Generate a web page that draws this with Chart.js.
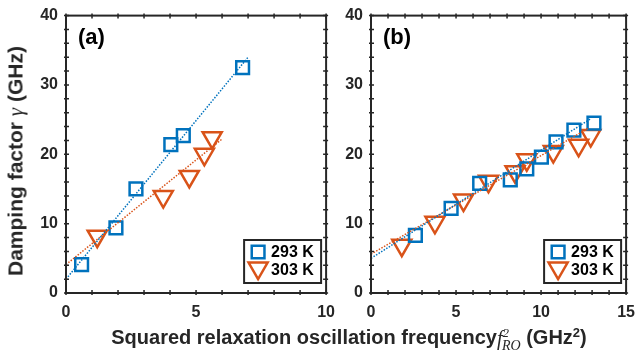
<!DOCTYPE html>
<html>
<head>
<meta charset="utf-8">
<script src="https://cdn.jsdelivr.net/npm/chart.js@4.4.1/dist/chart.umd.min.js"></script>
<style>
  body { margin: 0; background: #fff; width: 641px; height: 360px; position: relative; overflow: hidden; font-family: "Liberation Sans", Arial, sans-serif; }
  canvas { position: absolute; top: -2px; }
  #ylab { position: absolute; left: 16px; top: 161px; transform: translate(-50%, -50%) rotate(-90deg); white-space: nowrap; font-weight: bold; font-size: 21px; color: #262626; }
  #xlab { position: absolute; left: 349px; top: 339px; transform: translate(-50%, -50%); white-space: nowrap; font-weight: bold; font-size: 20px; color: #262626; }
  .it { font-family: "Liberation Serif", serif; font-style: italic; font-weight: normal; }
</style>
</head>
<body>
<canvas id="chartA" width="345" height="362" style="left:0"></canvas>
<canvas id="chartB" width="315" height="362" style="left:330px"></canvas>
<div id="ylab">Damping factor <span class="it">γ</span> (GHz)</div>
<div id="xlab">Squared relaxation oscillation frequency<span class="it">f<sup style="font-size:13px">2</sup><sub style="font-size:14px;margin-left:-7px">RO</sub></span> (GHz<sup style="font-size:13px">2</sup>)</div>
<script>
// panel (a)
const a293x = [0.6, 1.92, 2.69, 4.03, 4.51, 6.79];
const a293y = [4.1, 9.4, 15.0, 21.4, 22.7, 32.5];
const a303x = [1.2, 3.74, 4.74, 5.32, 5.62];
const a303y = [8.2, 13.9, 16.8, 20.0, 22.4];
const aFit293x = [0, 7.0];
const aFit293y = [2.0, 34.0];
const aFit303x = [0, 6.0];
const aFit303y = [4.1, 22.2];

// panel (b)
const b293x = [2.61, 4.71, 6.39, 8.19, 9.16, 10.02, 10.88, 11.93, 13.11];
const b293y = [8.3, 12.2, 15.8, 16.3, 17.9, 19.6, 21.8, 23.5, 24.5];
const b303x = [1.81, 3.76, 5.44, 6.91, 8.47, 9.16, 10.72, 12.21, 12.92];
const b303y = [6.9, 10.2, 13.4, 16.1, 17.5, 19.2, 20.4, 21.3, 22.7];
const bFit293x = [0, 12.9];
const bFit293y = [5.0, 25.1];
const bFit303x = [0, 12.8];
const bFit303y = [5.6, 23.8];

const seriesNames = ["293 K", "303 K"];
const blue = "#0072BD";
const red = "#D95319";
const axisColor = "#262626";

function pts(xs, ys) {
    return xs.map((x, i) => ({ x: x, y: ys[i] }));
}

// box, ticks, panel label and legend
const framePlugin = {
    id: "frame",
    afterDraw(chart, args, opts) {
        const ctx = chart.ctx;
        const ca = chart.chartArea;
        const xs = chart.scales.x;
        const ys = chart.scales.y;
        ctx.save();
        ctx.strokeStyle = axisColor;
        ctx.lineWidth = 2;
        ctx.strokeRect(ca.left, ca.top, ca.right - ca.left, ca.bottom - ca.top);
        ctx.lineWidth = 1.5;
        ctx.beginPath();
        for (let v = xs.min; v <= xs.max; v += 1) {
            const px = xs.getPixelForValue(v);
            ctx.moveTo(px, ca.bottom + 2); ctx.lineTo(px, ca.bottom - 3);
            ctx.moveTo(px, ca.top - 2); ctx.lineTo(px, ca.top + 3);
        }
        for (let v = ys.min; v <= ys.max; v += 2) {
            const py = ys.getPixelForValue(v);
            ctx.moveTo(ca.left - 2, py); ctx.lineTo(ca.left + 3, py);
            ctx.moveTo(ca.right + 2, py); ctx.lineTo(ca.right - 3, py);
        }
        ctx.stroke();

        // panel label
        ctx.fillStyle = "#000";
        ctx.font = "bold 22px 'Liberation Sans', Arial, sans-serif";
        ctx.textBaseline = "middle";
        ctx.fillText(opts.label, ca.left + 12, ca.top + 22);

        // legend
        const lx = ca.right - 82, ly = ca.bottom - 53, lw = 77, lh = 43;
        ctx.fillStyle = "#fff";
        ctx.fillRect(lx, ly, lw, lh);
        ctx.lineWidth = 2;
        ctx.strokeStyle = axisColor;
        ctx.strokeRect(lx, ly, lw, lh);
        ctx.lineWidth = 2.5;
        ctx.strokeStyle = blue;
        Chart.helpers.drawPoint(ctx, { pointStyle: "rect", radius: 9, rotation: 0, borderWidth: 2.5 }, lx + 14, ly + 12);
        ctx.strokeStyle = red;
        Chart.helpers.drawPoint(ctx, { pointStyle: "triangle", radius: 11, rotation: 180, borderWidth: 2.5 }, lx + 14, ly + 28);
        ctx.fillStyle = "#000";
        ctx.font = "bold 16px 'Liberation Sans', Arial, sans-serif";
        ctx.fillText(seriesNames[0], lx + 27, ly + 13);
        ctx.fillText(seriesNames[1], lx + 27, ly + 31);
        ctx.restore();
    }
};

function makeChart(id, xmax, yWidth, padRight, fit293x, fit293y, fit303x, fit303y, d293x, d293y, d303x, d303y, label) {
    const lineStyle = { showLine: true, pointRadius: 0, borderWidth: 1.5, borderDash: [1.5, 1.5], fill: false };
    new Chart(document.getElementById(id), {
        type: "scatter",
        data: {
            datasets: [
                Object.assign({ data: pts(fit293x, fit293y), borderColor: blue }, lineStyle),
                Object.assign({ data: pts(fit303x, fit303y), borderColor: red }, lineStyle),
                {
                    data: pts(d293x, d293y),
                    pointStyle: "rect",
                    pointRadius: 9,
                    borderColor: blue,
                    backgroundColor: "rgba(0,0,0,0)",
                    borderWidth: 2.5,
                },
                {
                    data: pts(d303x, d303y),
                    pointStyle: "triangle",
                    rotation: 180,
                    pointRadius: 11,
                    borderColor: red,
                    backgroundColor: "rgba(0,0,0,0)",
                    borderWidth: 2.5,
                },
            ],
        },
        options: {
            responsive: false,
            animation: false,
            layout: { padding: { left: 0, top: 8, right: padRight, bottom: 37 } },
            plugins: {
                legend: { display: false },
                tooltip: { enabled: false },
                frame: { label: label },
            },
            scales: {
                x: {
                    type: "linear",
                    min: 0,
                    max: xmax,
                    grid: { display: false, drawTicks: false },
                    border: { display: false },
                    ticks: { stepSize: 5, padding: 10, color: axisColor, font: { family: "Liberation Sans", weight: "bold", size: 16 } },
                    afterFit: (s) => { s.height = 30; },
                },
                y: {
                    type: "linear",
                    min: 0,
                    max: 40,
                    grid: { display: false, drawTicks: false },
                    border: { display: false },
                    ticks: { stepSize: 10, padding: 8, color: axisColor, font: { family: "Liberation Sans", weight: "bold", size: 16 } },
                    afterFit: (s) => { s.width = yWidth; },
                },
            },
        },
        plugins: [framePlugin],
    });
}

makeChart("chartA", 10, 66, 9, aFit293x, aFit293y, aFit303x, aFit303y, a293x, a293y, a303x, a303y, "(a)");
makeChart("chartB", 15, 41, 4, bFit293x, bFit293y, bFit303x, bFit303y, b293x, b293y, b303x, b303y, "(b)");
</script>
</body>
</html>
